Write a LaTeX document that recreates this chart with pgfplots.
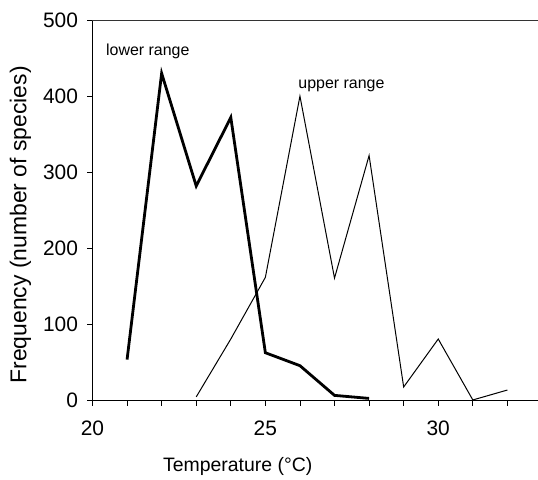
\documentclass[border=0pt]{standalone}
\usepackage{fontspec}
\setmainfont{Liberation Sans}
\usepackage{pgfplots}
\pgfplotsset{compat=1.18}

\begin{document}
\begin{tikzpicture}
\begin{axis}[
  scale only axis,
  width=446bp, height=380.7bp,
  xmin=20, xmax=32.9, ymin=0, ymax=500,
  axis lines*=left,
  axis line style={line width=0.9bp, -},
  xtick={20,25,30},
  minor xtick={21,...,32},
  ytick={0,100,...,500},
  tick align=outside,
  major tick length=5bp, minor tick length=5bp,
  every tick/.style={black, line width=0.8bp},
  every minor tick/.style={black, line width=0.8bp},
  /pgf/number format/assume math mode=true,
  ticklabel style={font=\fontsize{21}{21}\selectfont},
  xticklabel style={yshift=-12bp},
  yticklabel style={xshift=-6bp},
  xlabel={Temperature (°C)},
  ylabel={Frequency (number of species)},
  xlabel style={font=\fontsize{19.5}{20}\selectfont, at={(axis cs:24.2,0)}, anchor=base, yshift=-71bp},
  ylabel style={font=\fontsize{23}{23}\selectfont, at={([xshift=-66bp]axis cs:20,231)}, anchor=base},
  clip=false,
]
\addplot[black, line width=2.8bp] coordinates {
  (21,54) (22,430) (23,282) (24,372) (25,63) (26,46) (27,7) (28,3)};
\addplot[black, line width=1bp] coordinates {
  (23,5) (24,81) (25,162) (26,400) (27,161) (28,322) (29,18) (30,81) (31,1) (32,14)};
\draw[line width=0.8bp, black!80] (rel axis cs:0,1) -- (rel axis cs:1,1);
\node[font=\fontsize{16}{16}\selectfont] at (axis cs:21.6,459) {lower range};
\node[font=\fontsize{16}{16}\selectfont] at (axis cs:27.2,414) {upper range};
\end{axis}
\pgfresetboundingbox
\path ([shift={(-92.5bp,-79.3bp)}]current axis.south west) rectangle ++(538bp,480bp);
\end{tikzpicture}
\end{document}
